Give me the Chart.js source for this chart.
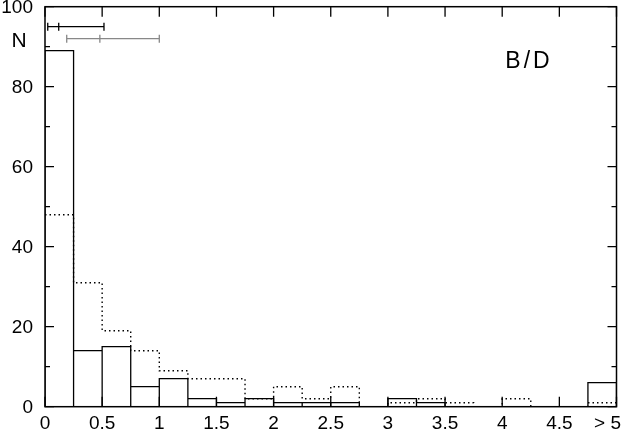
<!DOCTYPE html>
<html>
<head>
<meta charset="utf-8">
<script src="https://cdn.jsdelivr.net/npm/chart.js@4"></script>
<style>
html,body{margin:0;padding:0;background:#fff;}
#c{display:block;}
</style>
</head>
<body>
<canvas id="c" width="622" height="431"></canvas>
<script>
// ---- data ----
const binStart = [0,0.25,0.5,0.75,1,1.25,1.5,1.75,2,2.25,2.5,2.75,3,3.25,3.5,3.75,4,4.25,4.5,4.75];
const binWidth = 0.25;
const solidCounts  = [89,14,15,5,7,2,1,2,1,1,1,0,2,1,0,0,0,0,0,6];
const dottedCounts = [48,31,19,14,9,7,7,2,5,2,5,0,1,2,1,0,2,0,0,1];
const xTickValues = [0,0.5,1,1.5,2,2.5,3,3.5,4,4.5,5];
const xTickLabels = ["0","0.5","1","1.5","2","2.5","3","3.5","4","4.5","> 5"];
const yTickValues = [0,20,40,60,80,100];
const yTickLabels = ["0","20","40","60","80","100"];
const yMinorValues = [10,30,50,70,90];
// error bars: [low, mid, high] at height y
const errBlack = {lo:0.024, mid:0.12, hi:0.516, y:95};
const errGray  = {lo:0.19,  mid:0.48, hi:1.0,   y:92};

// ---- build histogram paths from data ----
function boxPoints(counts){
  const pts=[];
  counts.forEach((c,i)=>{
    if(c<=0) return;
    const l=binStart[i], r=binStart[i]+binWidth;
    pts.push({x:l,y:0},{x:l,y:c},{x:r,y:c},{x:r,y:0});
  });
  return pts;
}
function stepPoints(counts){
  const pts=[];
  counts.forEach((c,i)=>{
    pts.push({x:binStart[i],y:c},{x:binStart[i]+binWidth,y:c});
  });
  return pts;
}

const FONT = '"Liberation Sans", Arial, sans-serif';

const decor = {
  id:'decor',
  afterDatasetsDraw(chart){
    const ctx=chart.ctx, a=chart.chartArea, xs=chart.scales.x, ys=chart.scales.y;
    ctx.save();
    // error bars
    function errbar(e,color){
      const y=ys.getPixelForValue(e.y);
      const x0=xs.getPixelForValue(e.lo), x1=xs.getPixelForValue(e.hi), xm=xs.getPixelForValue(e.mid);
      ctx.strokeStyle=color; ctx.lineWidth=1.3;
      ctx.beginPath();
      ctx.moveTo(x0,y); ctx.lineTo(x1,y);
      [x0,xm,x1].forEach(x=>{ctx.moveTo(x,y-4);ctx.lineTo(x,y+4);});
      ctx.stroke();
    }
    errbar(errBlack,'#000');
    errbar(errGray,'#888');
    // frame
    ctx.strokeStyle='#000'; ctx.lineWidth=1.5;
    ctx.strokeRect(a.left,a.top,a.right-a.left,a.bottom-a.top);
    // ticks
    ctx.lineWidth=1.3;
    ctx.beginPath();
    xTickValues.forEach(v=>{
      const x=xs.getPixelForValue(v);
      ctx.moveTo(x,a.bottom); ctx.lineTo(x,a.bottom-10);
      ctx.moveTo(x,a.top); ctx.lineTo(x,a.top+10);
    });
    yTickValues.forEach(v=>{
      const y=ys.getPixelForValue(v);
      ctx.moveTo(a.left,y); ctx.lineTo(a.left+9,y);
      ctx.moveTo(a.right,y); ctx.lineTo(a.right-9,y);
    });
    yMinorValues.forEach(v=>{
      const y=ys.getPixelForValue(v);
      ctx.moveTo(a.left,y); ctx.lineTo(a.left+5,y);
      ctx.moveTo(a.right,y); ctx.lineTo(a.right-5,y);
    });
    ctx.stroke();
    // tick labels
    ctx.fillStyle='#000';
    ctx.font='19px '+FONT;
    ctx.textAlign='right'; ctx.textBaseline='middle';
    yTickValues.forEach((v,i)=>{
      ctx.fillText(yTickLabels[i], 33, ys.getPixelForValue(v)+1);
    });
    ctx.textBaseline='alphabetic';
    xTickValues.forEach((v,i)=>{
      const x=xs.getPixelForValue(v);
      const t=xTickLabels[i];
      const w=ctx.measureText(t).width;
      let cx=x;
      if(cx+w/2>chart.width-1) cx=chart.width-1-w/2;
      ctx.textAlign='center';
      ctx.fillText(t,cx,429);
    });
    // axis title and annotation
    ctx.font='21px '+FONT;
    ctx.textAlign='center'; ctx.textBaseline='alphabetic';
    ctx.fillText('N',19,47);
    ctx.font='23px '+FONT;
    if('letterSpacing' in ctx) ctx.letterSpacing='3px';
    ctx.fillText('B/D',529,67.5);
    ctx.restore();
  }
};

new Chart(document.getElementById('c'),{
  type:'line',
  data:{datasets:[
    {data:stepPoints(dottedCounts), borderColor:'#000', borderWidth:1.4, borderDash:[1.5,3],
     pointRadius:0, tension:0, fill:false},
    {data:boxPoints(solidCounts), borderColor:'#000', borderWidth:1.3,
     pointRadius:0, tension:0, fill:false}
  ]},
  options:{
    responsive:false, animation:false,
    layout:{padding:{left:45,right:5.5,top:6.7,bottom:24.3}},
    plugins:{legend:{display:false},tooltip:{enabled:false}},
    scales:{
      x:{type:'linear',min:0,max:5,display:false},
      y:{type:'linear',min:0,max:100,display:false}
    }
  },
  plugins:[decor]
});
</script>
</body>
</html>
